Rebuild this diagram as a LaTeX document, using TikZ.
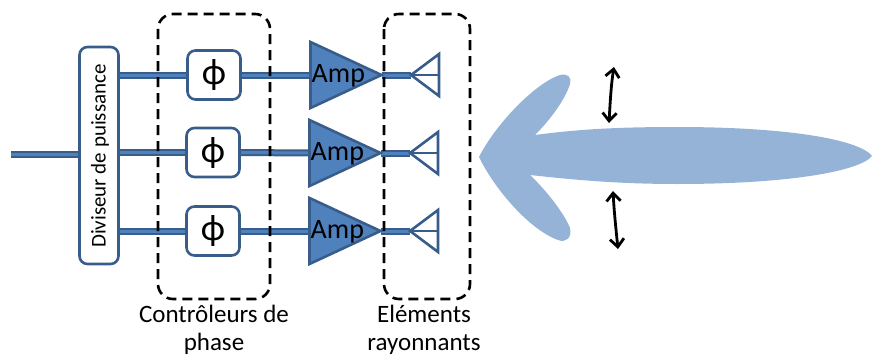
\documentclass[tikz,border=0pt]{standalone}
\usepackage{fontspec}
\setmainfont{Carlito}
\usetikzlibrary{shapes.geometric,arrows.meta,backgrounds}
\definecolor{edgeblue}{HTML}{385D8A}
\definecolor{fillblue}{HTML}{4F81BD}
\definecolor{lobeblue}{HTML}{95B3D7}
\tikzset{
  box/.style={draw=edgeblue,line width=2.6pt,fill=white,rounded corners=8pt,inner sep=0pt,outer sep=0pt},
  phasebox/.style={box,minimum width=53pt,minimum height=49pt,font=\fontsize{37}{37}\selectfont},
  amptri/.style={draw=edgeblue,line width=2.6pt,fill=fillblue,isosceles triangle,isosceles triangle stretches,
    minimum width=66pt,minimum height=71pt,inner sep=0pt,outer sep=0pt,anchor=lower side},
  amptext/.style={font=\fontsize{28}{28}\selectfont,inner sep=0pt,anchor=west},
  feed/.style={draw=edgeblue,line width=7pt},
  feedcore/.style={draw=fillblue,line width=3pt},
  ant/.style={draw=edgeblue,line width=2.6pt,line join=miter},
  zone/.style={draw=black,line width=2.6pt,dash pattern=on 10pt off 6pt,rounded corners=15pt},
  caption/.style={font=\fontsize{25}{28}\selectfont,align=center,inner sep=0pt},
  swing/.style={draw=black,line width=2.8pt,{Straight Barb[length=8pt,width=14pt]}-{Straight Barb[length=8pt,width=14pt]}}
}
\begin{document}
\begin{tikzpicture}[x=1pt,y=-1pt]
\useasboundingbox (0,0) rectangle (872,356);
% beam lobe
\fill[lobeblue] (479,157)
  .. controls (495,125) and (535,83) .. (560,75)
  .. controls (568,73) and (572,78) .. (570,84)
  .. controls (565,100) and (550,120) .. (535,135)
  .. controls (580,129) and (620,127) .. (677,127)
  .. controls (790,127) and (860,140) .. (872,156)
  .. controls (860,171) and (790,184) .. (677,184)
  .. controls (620,184) and (575,180) .. (530,175)
  .. controls (548,192) and (565,215) .. (570,228)
  .. controls (572,238) and (566,243) .. (558,240)
  .. controls (530,230) and (495,190) .. (479,157) -- cycle;
% blocks
\coordinate (in) at (11,154);
\node[box,minimum width=39pt,minimum height=217pt] (div) at (99,155.5) {};
\node[rotate=90,font=\fontsize{21}{21}\selectfont,inner sep=0pt] (divtext) at (100,156) {Diviseur de puissance};
\foreach \i/\bx/\by/\tx/\ty/\ax/\ay in {1/214/75/310.5/75/411/75,2/213/152.5/309.5/153/410/153,3/213/231/309.5/231/410/231}{
  \node[phasebox] (ph\i) at (\bx,\by) {ϕ};
  \node[amptri] (amp\i) at (\tx,\ty) {};
  \coordinate (ap\i) at (\ax,\ay);
  \coordinate (at\i) at (\ax+28,\ay-21);
  \coordinate (ab\i) at (\ax+28,\ay+21);
  \coordinate (am\i) at (\ax+28,\ay);
  \draw[ant] (at\i) -- (ap\i) -- (ab\i) -- cycle;
  \draw[ant] (ap\i) -- (am\i);
  \node[amptext] (amptext\i) at (\tx+1,\ty+1) {Amp};
}
\begin{pgfonlayer}{background}
  \draw[feed] (in) -- (div.west |- in);
  \draw[feedcore] (in) -- (div.west |- in);
  \foreach \i in {1,2,3}{
    \draw[feed] (div.east |- ph\i) -- (ph\i.west);
    \draw[feedcore] (div.east |- ph\i) -- (ph\i.west);
    \draw[feed] (ph\i.east) -- (amp\i.lower side);
    \draw[feedcore] (ph\i.east) -- (amp\i.lower side);
    \draw[feed] (amp\i.apex) -- (ap\i);
    \draw[feedcore] (amp\i.apex) -- (ap\i);
  }
\end{pgfonlayer}
% zones
\draw[zone] (158,14) rectangle (270,299);
\draw[zone] (384,14) rectangle (470,299);
\node[caption] (capa) at (214,330) {Contrôleurs de\\phase};
\node[caption] (capb) at (424,330) {Eléments\\rayonnants};
% swing arrows
\coordinate (s1a) at (614,67);
\coordinate (s1b) at (609,123);
\coordinate (s2a) at (613,191);
\coordinate (s2b) at (618,249);
\draw[swing] (s1a) .. controls (611,85) and (610,105) .. (s1b);
\draw[swing] (s2a) .. controls (614,210) and (616,230) .. (s2b);
\end{tikzpicture}
\end{document}
